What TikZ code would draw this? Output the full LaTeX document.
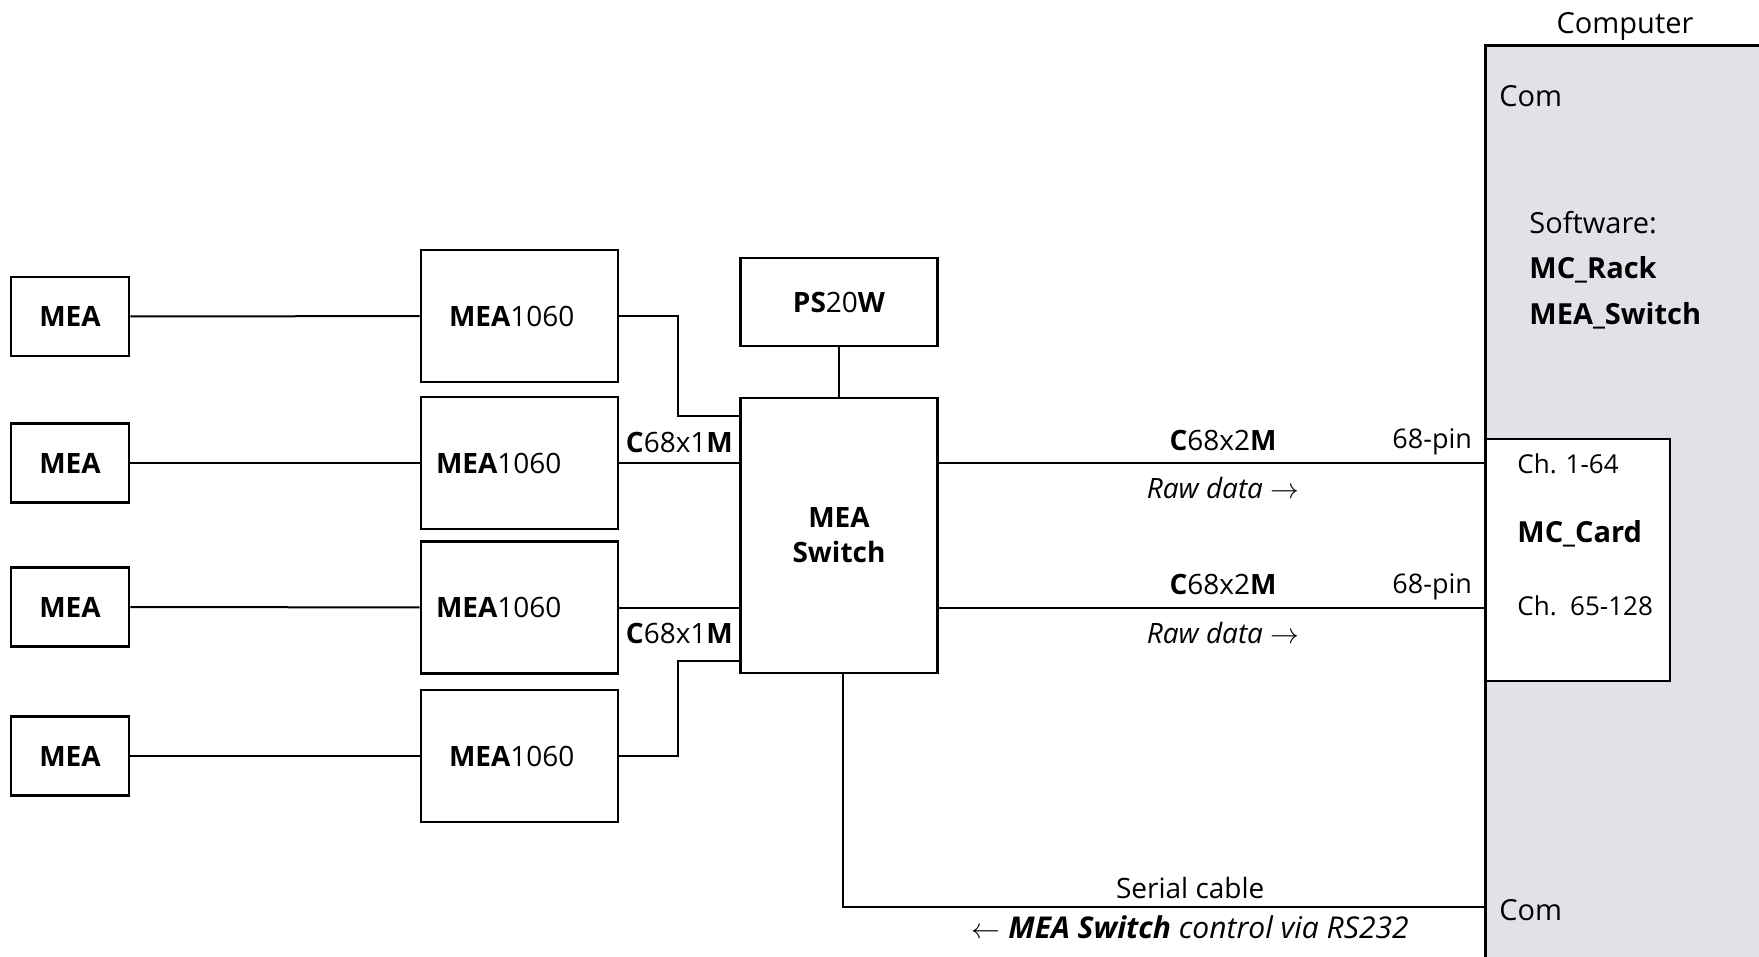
\documentclass[tikz,border=0pt]{standalone}
\usepackage{fontspec}
\setmainfont{Open Sans}
\usepackage{tikz}
\usetikzlibrary{positioning}
\usepackage{xcolor}
\definecolor{pcgray}{RGB}{224,226,231}

\begin{document}
\begin{tikzpicture}[x=0.5pt,y=-0.5pt,
  font=\fontsize{14}{17}\selectfont,
  box/.style={draw, line width=1.3pt, inner sep=0pt},
  mea/.style={box, minimum width=59pt, minimum height=39.5pt, font=\fontsize{14}{17}\selectfont\bfseries},
  dev/.style={box, minimum height=66pt, text width=70.5pt, inner xsep=14pt, align=left},
  devl/.style={dev, text width=83.5pt, inner xsep=7.5pt},
  wire/.style={line width=1pt},
  pctext/.style={anchor=west, inner xsep=0pt, font=\fontsize{14.5}{17}\selectfont},
  cardtext/.style={anchor=west, inner xsep=0pt, font=\fontsize{13}{16}\selectfont}]
\useasboundingbox (0,0) rectangle (1759,957);

% computer side
\node[fill=pcgray, minimum width=142pt, minimum height=462pt, inner sep=0pt] (pc) at (1628,508) {};
\draw[line width=1.3pt] (pc.north east) -- (pc.north west) -- (pc.south west);
\node[font=\fontsize{14.5}{17}\selectfont] (pcname) at (1625,26) {Computer};
\node[pctext] (com1) at (1499,96) {Com};
\node[pctext] (soft) at (1529,223) {Software:};
\node[pctext] (rack) at (1529,270) {\textbf{MC\_Rack}};
\node[pctext] (swprog) at (1529,316) {\textbf{MEA\_Switch}};
\node[box, fill=white, minimum width=92pt, minimum height=121pt] (card) at (1578,560) {};
\node[cardtext] (ch1) at (1517,464) {Ch. 1-64};
\node[pctext] (mccard) at (1517,534) {\textbf{MC\_Card}};
\node[cardtext] (ch2) at (1517,606) {Ch.\ \ 65-128};
\node[pctext] (com2) at (1499,910) {Com};

% arrays and amplifiers
\foreach \i/\y in {1/316.5,2/463,3/607,4/756}
  \node[mea] (mea\i) at (70,\y) {MEA};
\node[dev] (dev1) at (519.5,316) {\textbf{MEA}1060};
\node[devl] (dev2) at (519.5,463) {\textbf{MEA}1060};
\node[devl] (dev3) at (519.5,607.5) {\textbf{MEA}1060};
\node[dev] (dev4) at (519.5,756) {\textbf{MEA}1060};
\foreach \i in {1,...,4}
  \draw[wire] (mea\i) -- (dev\i);

% switch
\node[box, minimum width=98.25pt, minimum height=44pt] (ps) at (839,302) {\textbf{PS}20\textbf{W}};
\node[box, minimum width=98.25pt, minimum height=137.5pt, align=center, font=\fontsize{14}{17.5}\selectfont\bfseries] (sw) at (839,535.5) {MEA\\Switch};
\draw[wire] (ps) -- (sw);

\draw[wire] (dev1.east) -- ++(59,0) |- ([yshift=-9.5pt]sw.north west);
\draw[wire] (dev2.east) -- (dev2.east -| sw.west)
  node[midway, above=1.5pt] {\textbf{C}68x1\textbf{M}};
\draw[wire] (dev3.east) -- (dev3.east -| sw.west)
  node[midway, below=4pt] {\textbf{C}68x1\textbf{M}};
\draw[wire] (dev4.east) -- ++(59,0) |- ([yshift=6.5pt]sw.south west);

% cables to the computer
\draw[wire] (sw.east |- dev2.east) -- (pc.west |- dev2.east)
  node[pos=0.52, above=2.5pt] {\textbf{C}68x2\textbf{M}}
  node[pos=0.52, below=3.5pt] {\textit{Raw data} $\rightarrow$}
  node[pos=1, above left=0pt and 3pt, font=\fontsize{13.5}{16}\selectfont] {68-pin};
\draw[wire] (sw.east |- dev3.east) -- (pc.west |- dev3.east)
  node[pos=0.52, above=2.5pt] {\textbf{C}68x2\textbf{M}}
  node[pos=0.52, below=3.5pt] {\textit{Raw data} $\rightarrow$}
  node[pos=1, above left=0pt and 3pt, font=\fontsize{13.5}{16}\selectfont] {68-pin};
\coordinate (serial) at (1486,907);
\draw[wire] ([xshift=2pt]sw.south) |- (serial)
  node[pos=0.77, above=0.5pt] {Serial cable}
  node[pos=0.77, below=0.5pt, font=\fontsize{15}{18}\selectfont] {$\leftarrow$ \textit{\textbf{MEA Switch} control via RS232}};
\end{tikzpicture}
\end{document}
